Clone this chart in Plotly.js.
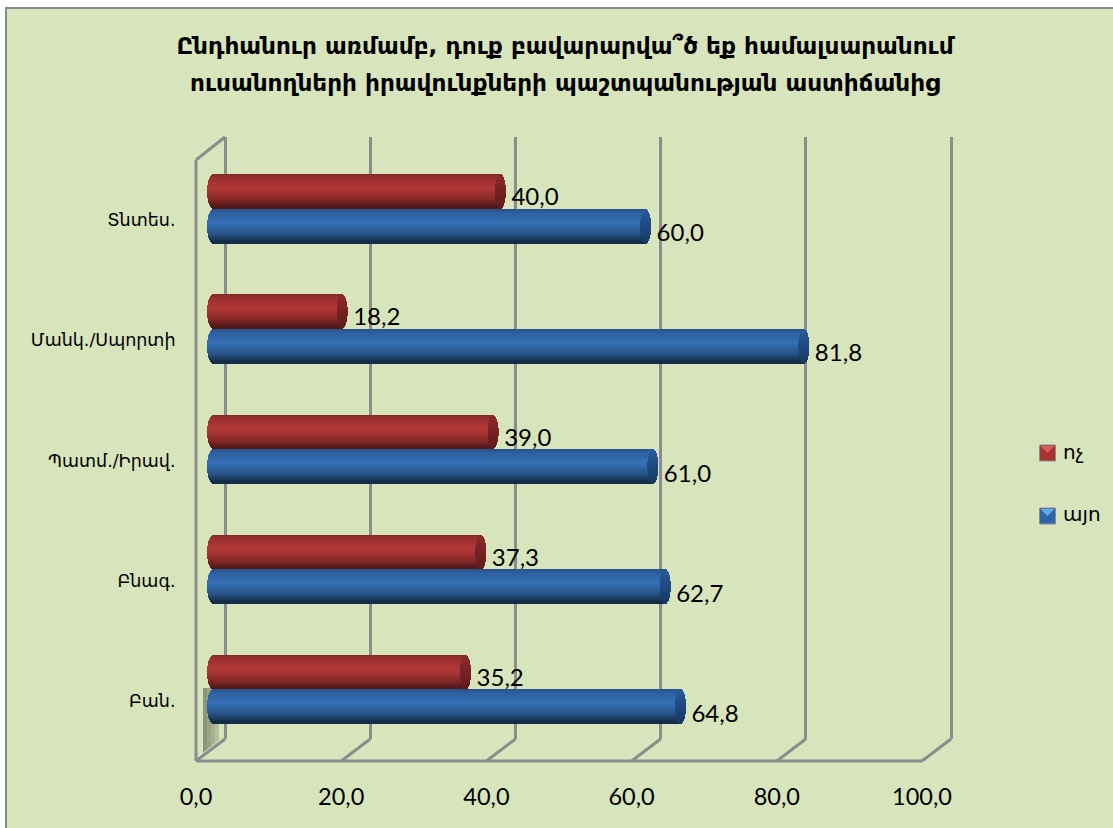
<!DOCTYPE html>
<html><head><meta charset="utf-8">
<script src="https://cdn.plot.ly/plotly-3.0.1.min.js"></script>
<style>html,body{margin:0;padding:0;background:#fff}#c{width:1113px;height:828px}</style>
</head><body><div id="c"></div>
<script>
const titleLines = ["Ընդհանուր առմամբ, դուք բավարարվա՞ծ եք համալսարանում", "ուսանողների իրավունքների պաշտպանության աստիճանից"];
const categories = ["Բան.", "Բնագ.", "Պատմ./Իրավ.", "Մանկ./Սպորտի", "Տնտես."];
const noValues = [35.2, 37.3, 39.0, 18.2, 40.0];
const yesValues = [64.8, 62.7, 61.0, 81.8, 60.0];
const noName = "ոչ";
const yesName = "այո";
const xTicks = [0, 20, 40, 60, 80, 100];

const W = 1113, H = 828;
const px = x => x / W, py = y => 1 - y / H;
const dom = (a, b) => [a / W, b / W];
const domY = (top, bottom) => [1 - bottom / H, 1 - top / H];
const pos = categories.map((_, i) => i);
const SCALE = 726 / 100;           // pixels per percent
const frameH = 601, unit = 5 / frameH; // one pixel in category units
const GRID = '#8c8c8c';
const LABEL_FONT = 'Lato, "Open Sans", sans-serif';
const ARM_FONT = '"DejaVu Sans", sans-serif';

function mix(a, b, t) {
  const h = s => [1, 3, 5].map(k => parseInt(s.substr(k, 2), 16));
  const A = h(a), B = h(b);
  return 'rgb(' + A.map((v, i) => Math.round(v + (B[i] - v) * t)).join(',') + ')';
}
function ramp(stops, t) {
  for (let i = 1; i < stops.length; i++) {
    if (t <= stops[i][0]) {
      const [t0, c0] = stops[i - 1], [t1, c1] = stops[i];
      return mix(c0, c1, (t - t0) / (t1 - t0));
    }
  }
  return stops[stops.length - 1][1];
}
const redBody = [[0, '#7f2a2a'], [0.12, '#9c2f2f'], [0.42, '#b33838'], [0.72, '#8c2a2a'], [0.92, '#5c1a1a'], [1, '#4d1616']];
const blueBody = [[0, '#27528c'], [0.12, '#2d609f'], [0.42, '#3570b5'], [0.72, '#275489'], [0.92, '#17324f'], [1, '#122940']];
const redCap = [[0, '#8a2a2a'], [0.5, '#762323'], [1, '#5e1b1b']];
const blueCap = [[0, '#2a5a98'], [0.5, '#1f4a82'], [1, '#173a63']];

// cylinder: one real bar per value, then one-pixel slices that shade it
function cylinder(values, name, body, cap, centerPx) {
  const HEIGHT = 34, RIGHT = 5.5, LEFT_TIP = 7, LEFT_IN = 4;
  const traces = [{
    type: 'bar', orientation: 'h', name: name, x: values, y: pos, width: 24 * unit,
    offset: (centerPx - 12) * unit, marker: {color: body[2][1]}, xaxis: 'x3', yaxis: 'y3',
    hoverinfo: 'skip', showlegend: false
  }];
  const mk = capLayer => {
    const x = [], y = [], base = [], offset = [], color = [];
    values.forEach((v, i) => {
      for (let s = 0; s < HEIGHT; s++) {
        const t = (s + 0.5) / HEIGHT, u = 2 * t - 1, r = Math.sqrt(Math.max(0, 1 - u * u));
        const right = v + RIGHT * r / SCALE;
        const left = capLayer ? v - RIGHT * r / SCALE : (LEFT_IN - LEFT_TIP * r) / SCALE;
        x.push(right - left); base.push(left); y.push(i);
        offset.push((centerPx + HEIGHT / 2 - s - 1) * unit);
        color.push(ramp(capLayer ? cap : body, t));
      }
    });
    return {type: 'bar', orientation: 'h', x, y, base, offset, width: unit, marker: {color, line: {width: 0}},
      xaxis: 'x3', yaxis: 'y3', hoverinfo: 'skip', showlegend: false};
  };
  traces.push(mk(false), mk(true));
  return traces;
}
const fmt = v => v.toFixed(1).replace('.', ',');
const labelTrace = (values, shiftPx) => ({
  type: 'scatter', mode: 'text', x: values, y: pos.map(p => p + shiftPx * unit),
  text: values.map(fmt), textposition: 'middle right',
  textfont: {family: LABEL_FONT, size: 24, color: '#000'}, cliponaxis: false,
  xaxis: 'x2', yaxis: 'y2', hoverinfo: 'skip', showlegend: false
});

const traces = [
  {type: 'scatter', mode: 'none', x: [0], y: [0], xaxis: 'x', yaxis: 'y', hoverinfo: 'skip', showlegend: false},
  labelTrace(noValues, 21),
  labelTrace(yesValues, -15),
  ...cylinder(noValues, noName, redBody, redCap, 17.5),
  ...cylinder(yesValues, yesName, blueBody, blueCap, -17),
  {type: 'scatter', mode: 'none', x: [0], y: [0], xaxis: 'x4', yaxis: 'y4', hoverinfo: 'skip', showlegend: false}
];

const blank = {showgrid: false, zeroline: false, showticklabels: false, ticks: '', showline: false, fixedrange: true};
const frameLine = (x0, y0, x1, y1) => ({type: 'line', xref: 'paper', yref: 'paper', layer: 'below',
  x0: px(x0), y0: py(y0), x1: px(x1), y1: py(y1), line: {color: GRID, width: 3}});
const shapes = [
  {type: 'rect', xref: 'paper', yref: 'paper', x0: px(6), x1: 1.02, y0: py(8), y1: -0.02,
   fillcolor: '#D8E4BC', line: {color: '#8a8a8a', width: 2}, layer: 'below'},
  frameLine(196, 160, 225, 137),
  frameLine(196, 160, 196, 761),
  frameLine(196, 761, 922, 761)
];
['#8c9678', '#98a384', '#a6b191', '#b5c09f'].forEach((c, i) => {
  const a = 203 + 4 * i, b = a + 4, fall = x => 753 - (x - 203) * 0.8;
  shapes.push({type: 'path', xref: 'paper', yref: 'paper', layer: 'below', line: {width: 0}, fillcolor: c,
    path: `M${px(a)},${py(688)} L${px(b)},${py(688)} L${px(b)},${py(fall(b))} L${px(a)},${py(fall(a))} Z`});
});
xTicks.forEach(t => shapes.push(frameLine(196 + t * SCALE, 761, 225 + t * SCALE, 739)));
function swatch(top, dark, light) {
  shapes.push({type: 'rect', xref: 'paper', yref: 'paper', x0: px(1039.5), x1: px(1055.5), y0: py(top), y1: py(top + 16),
    fillcolor: dark, line: {color: '#8c8c8c', width: 1}, layer: 'above'});
  shapes.push({type: 'path', xref: 'paper', yref: 'paper', layer: 'above', fillcolor: light, line: {width: 0},
    path: `M${px(1040.5)},${py(top + 1)} L${px(1054.5)},${py(top + 1)} L${px(1047.5)},${py(top + 8)} Z`});
}
swatch(445, '#a83232', '#d65c5c');
swatch(508, '#2e64a8', '#62a8ec');

const legendText = (text, y) => ({
  text, xref: 'paper', yref: 'paper', x: px(1061), y: py(y), xanchor: 'left', yanchor: 'middle',
  showarrow: false, font: {family: ARM_FONT, size: 20, color: '#000'}
});

const layout = {
  width: W, height: H, margin: {l: 0, r: 0, t: 0, b: 0, pad: 0},
  paper_bgcolor: '#fff', plot_bgcolor: 'rgba(0,0,0,0)', separators: ', ',
  showlegend: false, barmode: 'overlay', bargap: 0,
  title: {
    text: titleLines.map(l => `<b><span style="font-size:23.2px">${l}</span></b>`).join('<br>'),
    font: {family: ARM_FONT, size: 29, color: '#000'},
    x: 565 / W, xanchor: 'center', xref: 'paper', y: 1 - 53.5 / H, yanchor: 'middle', yref: 'paper'
  },
  // back wall: range runs a touch past 100 so that its grid line is drawn
  xaxis: {...blank, domain: dom(225, 955), range: [0, 100 + 4 / SCALE], tickvals: xTicks,
    showgrid: true, gridcolor: GRID, gridwidth: 3, zeroline: true, zerolinecolor: GRID, zerolinewidth: 3, anchor: 'y'},
  yaxis: {...blank, domain: domY(137, 739), range: [-0.5, 4.5], anchor: 'x'},
  // value labels sit between the wall and the cylinders
  xaxis2: {...blank, domain: dom(221, 947), range: [0, 100], anchor: 'y2'},
  yaxis2: {...blank, domain: domY(160, 761), range: [-0.5, 4.5], anchor: 'x2'},
  // cylinders: the range starts below 0 to leave room for the rounded end
  xaxis3: {...blank, domain: dom(200, 936), range: [-10 / SCALE, 100], anchor: 'y3'},
  yaxis3: {...blank, domain: domY(149, 750), range: [-0.5, 4.5], anchor: 'x3'},
  // front frame with the readable axes
  xaxis4: {
    domain: dom(196, 922), range: [0, 100], anchor: 'y4', tickvals: xTicks, tickformat: '.1f',
    showgrid: false, zeroline: false, showline: false,
    ticks: 'outside', ticklen: 15, tickcolor: 'rgba(0,0,0,0)', fixedrange: true,
    tickfont: {family: LABEL_FONT, size: 23.5, color: '#000'}
  },
  yaxis4: {
    domain: domY(160, 761), range: [-0.5, 4.5], anchor: 'x4', tickvals: pos, ticktext: categories,
    showgrid: false, zeroline: false, showline: false,
    ticks: 'outside', ticklen: 16, tickcolor: 'rgba(0,0,0,0)', fixedrange: true,
    tickfont: {family: ARM_FONT, size: 17.5, color: '#000'}
  },
  shapes,
  annotations: [legendText(noName, 452), legendText(yesName, 514)]
};
Plotly.newPlot('c', traces, layout, {displayModeBar: false, responsive: false});
</script></body></html>
